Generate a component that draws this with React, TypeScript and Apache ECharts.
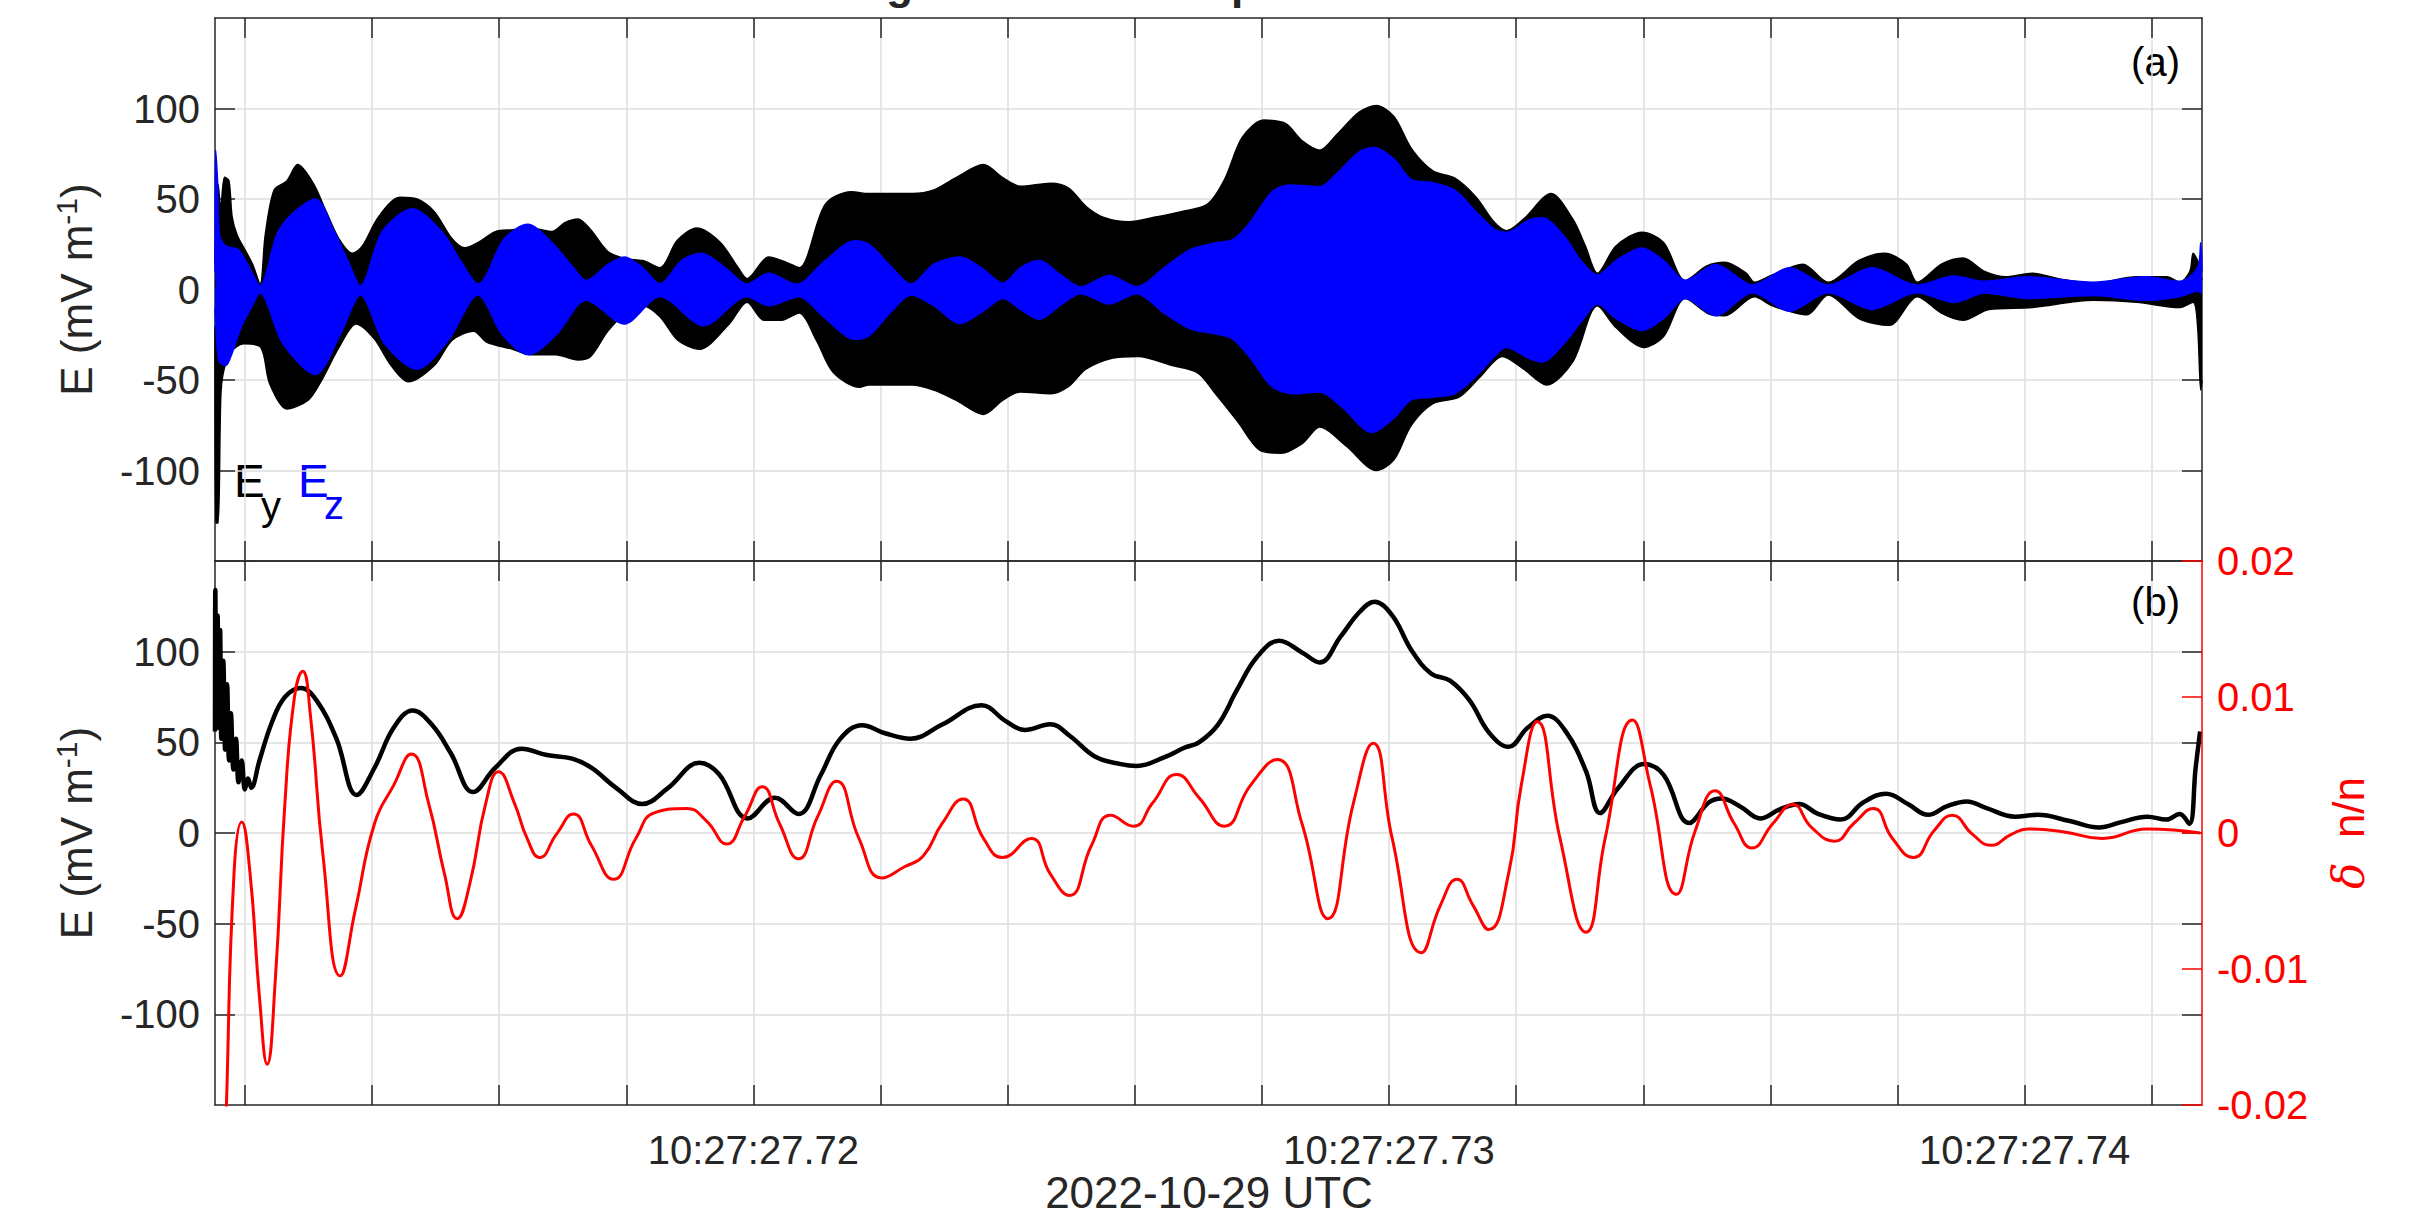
import React, { useEffect, useRef } from 'react';
import * as echarts from 'echarts';

// time axis: milliseconds after 10:27:27.700 UTC
const X_MIN = 11.53;
const X_MAX = 42.79;
const X_TICKS = [12, 14, 16, 18, 20, 22, 24, 26, 28, 30, 32, 34, 36, 38, 40, 42];
const X_LABEL_VALUES = [20, 30, 40];
const X_LABEL_TEXTS = ['10:27:27.72', '10:27:27.73', '10:27:27.74'];
const E_TICKS = [-100, -50, 0, 50, 100];
const DN_TICKS = [-0.02, -0.01, 0, 0.01, 0.02];

// (a) Ey envelope (mV/m)
const EY_UPPER: [number, number][] = [
  [11.53, 15], [11.58, 58], [11.62, 45], [11.68, 62], [11.75, 60], [11.8, 40], [11.88, 30], [12.0, 22], [12.12, 14], [12.24, 3],
  [12.32, 30], [12.46, 55], [12.66, 60], [12.83, 69], [13.07, 59], [13.28, 43], [13.48, 28], [13.69, 20], [13.85, 24], [14.1, 40],
  [14.44, 51], [14.71, 50], [14.98, 43], [15.26, 28], [15.46, 23], [15.67, 26], [15.94, 32], [16.21, 33], [16.48, 34], [16.83, 32],
  [17.04, 37], [17.24, 39], [17.44, 33], [17.71, 21], [17.99, 17], [18.26, 16], [18.53, 12], [18.8, 27], [19.11, 34], [19.48, 26],
  [19.76, 12], [19.9, 6], [20.24, 18], [20.52, 15], [20.72, 12], [21.13, 47], [21.54, 54], [21.82, 53], [22.5, 53], [22.84, 55],
  [23.18, 61.6], [23.62, 69], [23.93, 61.6], [24.2, 57], [24.68, 58.7], [24.96, 56], [25.23, 46], [25.5, 40], [25.91, 37.4], [26.32, 40],
  [26.73, 43], [27.14, 47], [27.41, 60.6], [27.69, 84], [28.03, 93.6], [28.37, 91.7], [28.64, 82], [28.91, 77], [29.19, 86], [29.53, 98],
  [29.8, 101.7], [30.08, 95.5], [30.35, 78], [30.69, 65.5], [31.03, 61.6], [31.37, 51], [31.65, 37.4], [31.85, 32.5], [32.12, 39], [32.55, 53],
  [32.89, 39], [33.09, 24], [33.28, 9], [33.57, 24], [33.98, 31.6], [34.32, 26], [34.66, 5], [35.0, 13], [35.28, 15], [35.62, 9],
  [35.75, 4], [36.03, 8], [36.51, 14], [36.91, 4], [37.39, 16], [37.8, 20], [38.14, 14], [38.31, 4], [38.69, 14], [39.03, 17.4],
  [39.37, 10], [39.71, 7], [40.12, 9], [40.53, 6], [41.08, 3.5], [41.76, 7], [42.24, 7], [42.44, 4], [42.6, 10], [42.65, 20],
  [42.72, 16], [42.79, 5],
];
const EY_LOWER: [number, number][] = [
  [11.53, -20], [11.54, -129], [11.58, -129], [11.62, -60], [11.66, -46], [11.77, -35], [11.98, -30], [12.25, -32], [12.39, -52], [12.66, -66],
  [13.0, -61], [13.21, -50], [13.48, -32], [13.75, -19], [14.03, -27], [14.3, -42], [14.57, -51], [14.98, -42], [15.26, -28], [15.6, -23],
  [15.8, -29], [16.21, -33], [16.48, -36], [16.89, -36], [17.24, -39], [17.44, -37], [17.71, -23], [17.99, -13], [18.26, -9], [18.53, -15],
  [18.81, -28], [19.15, -33], [19.62, -19], [19.9, -7], [20.17, -17], [20.44, -17], [20.72, -13], [20.99, -28], [21.26, -46], [21.67, -54],
  [21.82, -52.7], [22.5, -52.7], [22.84, -55.6], [23.18, -61], [23.62, -69], [23.93, -61], [24.2, -56.6], [24.68, -57.6], [24.96, -53.5], [25.23, -44],
  [25.64, -38], [26.05, -37], [26.59, -42], [26.99, -46], [27.27, -57.6], [27.62, -73], [27.96, -88.6], [28.3, -90.5], [28.64, -85], [28.91, -76],
  [29.33, -86.6], [29.8, -100], [30.08, -94], [30.35, -75], [30.69, -63], [31.1, -59.5], [31.44, -48], [31.78, -37], [32.12, -44], [32.48, -52.7],
  [32.89, -40], [33.28, -9], [33.57, -21], [34.01, -32], [34.32, -26], [34.66, -5], [35.07, -14], [35.28, -14.5], [35.75, -4], [36.03, -9],
  [36.57, -14], [36.91, -3], [37.39, -16], [37.87, -19.8], [38.31, -4], [38.69, -13], [39.03, -17], [39.44, -11], [40.12, -10], [41.08, -6],
  [41.76, -7], [42.44, -10], [42.65, -7], [42.72, -20], [42.77, -55.6], [42.79, -50],
];

// (a) Ez envelope (mV/m)
const EZ_UPPER: [number, number][] = [
  [11.53, 10], [11.54, 77], [11.57, 60], [11.6, 30], [11.7, 24], [11.9, 22], [12.1, 10], [12.24, 2], [12.51, 31], [12.78, 43],
  [13.11, 50], [13.42, 31], [13.62, 16], [13.82, 2], [14.16, 32], [14.64, 44.6], [15.12, 31], [15.39, 16], [15.67, 3], [16.08, 28],
  [16.45, 36], [16.83, 26], [17.17, 12], [17.37, 5], [17.72, 14], [17.97, 18], [18.26, 12], [18.53, 3], [18.87, 16], [19.18, 20],
  [19.56, 12], [19.9, 3], [20.24, 9], [20.68, 3], [21.13, 16], [21.6, 27], [21.82, 25], [22.16, 13], [22.48, 3], [22.84, 14],
  [23.25, 18], [23.59, 12], [23.93, 3.5], [24.2, 12], [24.5, 16], [24.82, 8.5], [25.15, 1.5], [25.6, 7.8], [26.03, 1.5], [26.46, 12],
  [26.87, 22], [27.28, 25.8], [27.55, 27.7], [27.82, 37.4], [28.16, 54], [28.44, 57.8], [28.91, 56.8], [29.19, 64.5], [29.53, 76], [29.77, 78.5],
  [30.08, 72], [30.35, 60.7], [30.69, 59], [31.03, 55], [31.37, 43], [31.65, 33.5], [31.85, 31.6], [32.2, 38.4], [32.41, 39.7], [32.75, 29.7],
  [33.02, 16], [33.28, 8], [33.57, 16], [33.98, 22.9], [34.32, 16], [34.66, 5], [35.14, 13.8], [35.72, 2.5], [36.3, 12], [36.91, 2.5],
  [37.6, 12], [38.31, 2.5], [38.89, 7.4], [39.37, 4.5], [40.05, 7], [41.08, 4], [41.9, 7], [42.44, 4.5], [42.72, 12], [42.77, 25.8],
  [42.79, 10],
];
const EZ_LOWER: [number, number][] = [
  [11.53, -10], [11.56, -30], [11.6, -40], [11.7, -42], [11.8, -35], [11.95, -20], [12.1, -10], [12.24, -2], [12.6, -30], [13.11, -47],
  [13.5, -25], [13.82, -3], [14.2, -30], [14.71, -44], [15.2, -28], [15.67, -3], [16.05, -25], [16.46, -36], [16.9, -25], [17.37, -6],
  [17.97, -19], [18.53, -4], [19.22, -20], [19.9, -4], [20.24, -9], [20.72, -4], [21.1, -15], [21.6, -27.5], [21.82, -25.6], [22.16, -12.6],
  [22.48, -3], [22.84, -9], [23.25, -18.8], [23.59, -12.6], [23.93, -5], [24.2, -11], [24.5, -16.5], [24.82, -9], [25.15, -2.3], [25.6, -8],
  [26.03, -2.3], [26.46, -13], [26.87, -21.7], [27.28, -24.6], [27.55, -27.5], [27.82, -38], [28.16, -53.7], [28.51, -57.6], [28.91, -56.6], [29.26, -65],
  [29.73, -79], [30.08, -71], [30.35, -61], [30.69, -59.5], [31.03, -57.6], [31.37, -48], [31.71, -35], [31.85, -32], [32.2, -38], [32.41, -40],
  [32.75, -30], [33.02, -18], [33.28, -8], [33.57, -16], [33.98, -22.7], [34.32, -16], [34.66, -5], [35.14, -14.5], [35.72, -1.8], [36.3, -12],
  [36.91, -1.8], [37.6, -11], [38.31, -1.8], [38.89, -7.2], [39.37, -2], [40.05, -5], [41.08, -3.3], [41.9, -6], [42.44, -4], [42.72, -1],
  [42.79, -2],
];

// (b) |E| (mV/m)
const E_MAG: [number, number][] = [
  [11.53, 56], [11.535, 134], [11.55, 70], [11.57, 120], [11.59, 58], [11.61, 112], [11.63, 52], [11.66, 95], [11.69, 46], [11.72, 82],
  [11.75, 40], [11.78, 66], [11.82, 35], [11.86, 52], [11.9, 28], [11.95, 40], [12.0, 24], [12.05, 30], [12.1, 25], [12.23, 40],
  [12.43, 61.5], [12.63, 75], [12.88, 80], [13.13, 73], [13.44, 52], [13.76, 21], [14.04, 36], [14.34, 58], [14.64, 67.6], [14.94, 59.8],
  [15.24, 44], [15.59, 22.6], [15.94, 36], [16.35, 46.5], [16.75, 43], [17.15, 41], [17.45, 36], [17.85, 24.6], [18.25, 16], [18.65, 24.6],
  [19.15, 38.7], [19.46, 32.4], [19.91, 8], [20.34, 19.5], [20.71, 10.5], [21.06, 32], [21.36, 51.6], [21.71, 59.4], [22.07, 55], [22.47, 52],
  [22.97, 59.8], [23.59, 70.5], [23.97, 61.7], [24.27, 56.8], [24.67, 60], [24.98, 53.5], [25.38, 42], [25.78, 38], [26.03, 37], [26.48, 42],
  [26.78, 47], [27.01, 50], [27.31, 59.8], [27.61, 79], [27.92, 96.9], [28.27, 106], [28.63, 99.6], [28.91, 94], [29.24, 108.4], [29.54, 122],
  [29.77, 127.5], [30.05, 120], [30.36, 100.4], [30.66, 88], [30.96, 84], [31.27, 73], [31.57, 55.5], [31.88, 47.5], [32.18, 58], [32.49, 64.6],
  [32.79, 55.5], [33.1, 34], [33.32, 11], [33.6, 24.6], [34.01, 38], [34.32, 32], [34.72, 5.5], [35.03, 16.8], [35.23, 19], [35.53, 14.5],
  [35.84, 8], [36.14, 12.9], [36.45, 16], [36.75, 10.5], [37.11, 7.4], [37.46, 16.8], [37.82, 21.7], [38.17, 15.8], [38.48, 10], [38.78, 14.8],
  [39.09, 17.4], [39.39, 13.9], [39.85, 9], [40.2, 10], [40.71, 6.6], [41.17, 3.1], [41.52, 6], [41.93, 9], [42.23, 7.4], [42.44, 10.5],
  [42.59, 5], [42.69, 36], [42.76, 56],
];

// (b) density fluctuation dn/n
const DN: [number, number][] = [
  [11.62, -0.035], [11.71, -0.02], [11.83, -0.0029], [11.95, 0.0008], [12.08, -0.0029], [12.23, -0.0121], [12.35, -0.017], [12.48, -0.0107], [12.63, 0.0022], [12.78, 0.01],
  [12.91, 0.0119], [13.03, 0.0087], [13.23, -0.0017], [13.5, -0.0105], [13.74, -0.0056], [14.04, 0.0007], [14.34, 0.0035], [14.62, 0.0058], [14.89, 0.0022], [15.14, -0.003],
  [15.34, -0.0063], [15.54, -0.0037], [15.79, 0.0022], [15.99, 0.0045], [16.24, 0.0022], [16.44, -0.0004], [16.64, -0.0018], [16.9, -0.0001], [17.17, 0.0014], [17.45, -0.0009],
  [17.8, -0.0034], [18.15, -0.0004], [18.45, 0.0015], [18.95, 0.0018], [19.26, 0.0009], [19.58, -0.0008], [19.86, 0.0012], [20.14, 0.0034], [20.41, 0.0007], [20.71, -0.0019],
  [21.01, 0.0012], [21.31, 0.0038], [21.66, -0.0004], [22.02, -0.0033], [22.37, -0.0025], [22.67, -0.0017], [22.97, 0.0007], [23.3, 0.0025], [23.62, -0.0004], [23.92, -0.0018],
  [24.37, -0.0004], [24.67, -0.003], [24.97, -0.0046], [25.32, -0.0009], [25.62, 0.0013], [25.98, 0.0005], [26.28, 0.0022], [26.66, 0.0043], [27.01, 0.0026], [27.41, 0.0005],
  [27.82, 0.0035], [28.24, 0.0054], [28.63, 0.0007], [29.04, -0.0063], [29.44, 0.0022], [29.75, 0.0066], [30.05, -0.0004], [30.51, -0.0088], [30.81, -0.0053], [31.07, -0.0034],
  [31.32, -0.0053], [31.57, -0.0071], [31.88, -0.003], [32.08, 0.0035], [32.33, 0.0082], [32.69, -0.0004], [33.1, -0.0073], [33.4, -0.0004], [33.83, 0.0083], [34.11, 0.0035],
  [34.52, -0.0045], [34.82, 0.0002], [35.13, 0.0031], [35.43, 0.0007], [35.71, -0.0011], [36.04, 0.0007], [36.35, 0.0021], [36.65, 0.0004], [37.01, -0.0006], [37.31, 0.0007],
  [37.62, 0.0018], [37.92, -0.0004], [38.25, -0.0018], [38.58, 0.0002], [38.86, 0.0013], [39.18, -0.0001], [39.47, -0.0009], [39.79, -0.0001], [40.05, 0.0003], [40.6, 0.0001],
  [41.22, -0.0004], [41.93, 0.0003], [42.76, 0],
];

const FONT = '"Liberation Sans", Arial, Helvetica, sans-serif';
const AX = '#262626';
const GRID_C = '#dedede';
const RED = '#ff0000';
const BLUE = '#0000ff';

const lineSty = { color: AX, width: 1.5 };

function xAxisDef(gridIndex: number, position: string, split: boolean, labels: boolean) {
  return {
    type: 'value', gridIndex, position, min: X_MIN, max: X_MAX,
    axisLine: { show: true, onZero: false, lineStyle: lineSty },
    axisTick: { show: true, inside: true, length: 20, customValues: X_TICKS, lineStyle: lineSty },
    axisLabel: labels
      ? {
          show: true, customValues: X_LABEL_VALUES, color: AX, fontSize: 40, fontFamily: FONT, margin: 25,
          formatter: (v: number) => {
            const i = X_LABEL_VALUES.indexOf(Math.round(v));
            return i >= 0 ? X_LABEL_TEXTS[i] : '';
          },
        }
      : { show: false },
    splitLine: { show: split, lineStyle: { color: GRID_C, width: 1.5 } },
  };
}

function yEAxisDef(gridIndex: number, position: string, labels: boolean, split: boolean, line: boolean) {
  return {
    type: 'value', gridIndex, position, min: -150, max: 150,
    axisLine: { show: line, onZero: false, lineStyle: lineSty },
    axisTick: { show: true, inside: true, length: 20, customValues: E_TICKS, lineStyle: lineSty },
    axisLabel: labels
      ? { show: true, customValues: E_TICKS, color: AX, fontSize: 40, fontFamily: FONT, margin: 15 }
      : { show: false },
    splitLine: { show: split, lineStyle: { color: GRID_C, width: 1.5 } },
  };
}

// one half of an envelope band, filled from the curve to (slightly past) zero
function halfBand(name: string, data: [number, number][], color: string, origin: number, z: number) {
  return {
    type: 'line', name, xAxisIndex: 0, yAxisIndex: 0, data, showSymbol: false, silent: true, z,
    smooth: 0.3,
    lineStyle: { color, width: 1.5 },
    areaStyle: { color, opacity: 1, origin },
  };
}

function txt(text: string, x: number, y: number, size: number, fill: string, align = 'left') {
  return {
    type: 'text', x, y, silent: true,
    style: {
      text, fill, fontSize: size, fontFamily: FONT,
      align, textAlign: align, verticalAlign: 'middle', textVerticalAlign: 'middle',
    },
  };
}

function buildOption() {
  const yName = (cy: number) => ({
    type: 'text', x: 76, y: cy, rotation: Math.PI / 2, silent: true,
    style: {
      text: '{n|E (mV m}{s|-1}{n|)}',
      align: 'center', textAlign: 'center', verticalAlign: 'middle', textVerticalAlign: 'middle',
      fill: AX, fontFamily: FONT, fontSize: 44,
      rich: {
        n: { fontSize: 44, fontFamily: FONT, fill: AX, lineHeight: 50 },
        s: { fontSize: 30, fontFamily: FONT, fill: AX, lineHeight: 26, verticalAlign: 'top' },
      },
    },
  });
  return {
    animation: false,
    backgroundColor: '#ffffff',
    textStyle: { fontFamily: FONT },
    grid: [
      { left: 215, width: 1987, top: 18, height: 543, containLabel: false, outerBoundsMode: 'none' },
      { left: 215, width: 1987, top: 561, height: 544, containLabel: false, outerBoundsMode: 'none' },
    ],
    xAxis: [
      xAxisDef(0, 'bottom', true, false),
      xAxisDef(0, 'top', false, false),
      xAxisDef(1, 'bottom', true, true),
      xAxisDef(1, 'top', false, false),
    ],
    yAxis: [
      yEAxisDef(0, 'left', true, true, true),
      yEAxisDef(0, 'right', false, false, true),
      yEAxisDef(1, 'left', true, true, true),
      {
        type: 'value', gridIndex: 1, position: 'right', min: -0.02, max: 0.02,
        axisLine: { show: true, onZero: false, lineStyle: { color: RED, width: 1.5 } },
        axisTick: { show: true, inside: true, length: 20, customValues: DN_TICKS, lineStyle: { color: RED, width: 1.5 } },
        axisLabel: {
          show: true, customValues: DN_TICKS, color: RED, fontSize: 40, fontFamily: FONT, margin: 15,
          formatter: (v: number) => (Math.abs(v) < 1e-9 ? '0' : v.toFixed(2)),
        },
        splitLine: { show: false },
        z: 5,
      },
      yEAxisDef(1, 'right', false, false, false),
    ],
    series: [
      halfBand('Ey', EY_UPPER, '#000000', -1, 2),
      halfBand('Ey lower', EY_LOWER, '#000000', 1, 2),
      halfBand('Ez', EZ_UPPER, BLUE, -1, 3),
      halfBand('Ez lower', EZ_LOWER, BLUE, 1, 3),
      {
        type: 'line', name: '|E|', xAxisIndex: 2, yAxisIndex: 2, data: E_MAG, showSymbol: false,
        smooth: 0.4, silent: true, z: 3, lineStyle: { color: '#000000', width: 4.5 },
      },
      {
        type: 'line', name: 'dn/n', xAxisIndex: 2, yAxisIndex: 3, data: DN, showSymbol: false,
        smooth: 0.5, silent: true, z: 4, lineStyle: { color: RED, width: 3 },
      },
    ],
    graphic: [
      {
        type: 'text', x: 1209, y: -17, silent: true,
        style: {
          text: 'Langmuir wave: snapshot number 999', fill: AX, fontSize: 44, fontWeight: 'bold', fontFamily: FONT,
          align: 'center', textAlign: 'center', verticalAlign: 'middle', textVerticalAlign: 'middle',
        },
      },
      txt('(a)', 2180, 62, 40, '#000000', 'right'),
      txt('(b)', 2180, 602, 40, '#000000', 'right'),
      txt('E', 234, 481, 46, '#000000'),
      txt('y', 261, 506, 40, '#000000'),
      txt('E', 298, 481, 46, BLUE),
      txt('z', 324, 505, 40, BLUE),
      yName(289.5),
      yName(833),
      {
        type: 'text', x: 2348, y: 833, rotation: Math.PI / 2, silent: true,
        style: {
          text: '{d|δ}{n|  n/n}',
          align: 'center', textAlign: 'center', verticalAlign: 'middle', textVerticalAlign: 'middle',
          fill: RED, fontFamily: FONT, fontSize: 44,
          rich: {
            d: { fontSize: 44, fontFamily: '"DejaVu Serif", serif', fontStyle: 'italic', fill: RED, lineHeight: 50 },
            n: { fontSize: 44, fontFamily: FONT, fill: RED, lineHeight: 50 },
          },
        },
      },
      txt('2022-10-29 UTC', 1209, 1192, 44, AX, 'center'),
    ],
  };
}

export default function App() {
  const ref = useRef<HTMLDivElement>(null);
  useEffect(() => {
    document.body.style.margin = '0';
    document.body.style.overflow = 'hidden';
    const chart = echarts.init(ref.current as HTMLDivElement, null, { renderer: 'svg' });
    chart.setOption(buildOption() as any);
    return () => chart.dispose();
  }, []);
  return <div ref={ref} style={{ width: 2418, height: 1224 }} />;
}
